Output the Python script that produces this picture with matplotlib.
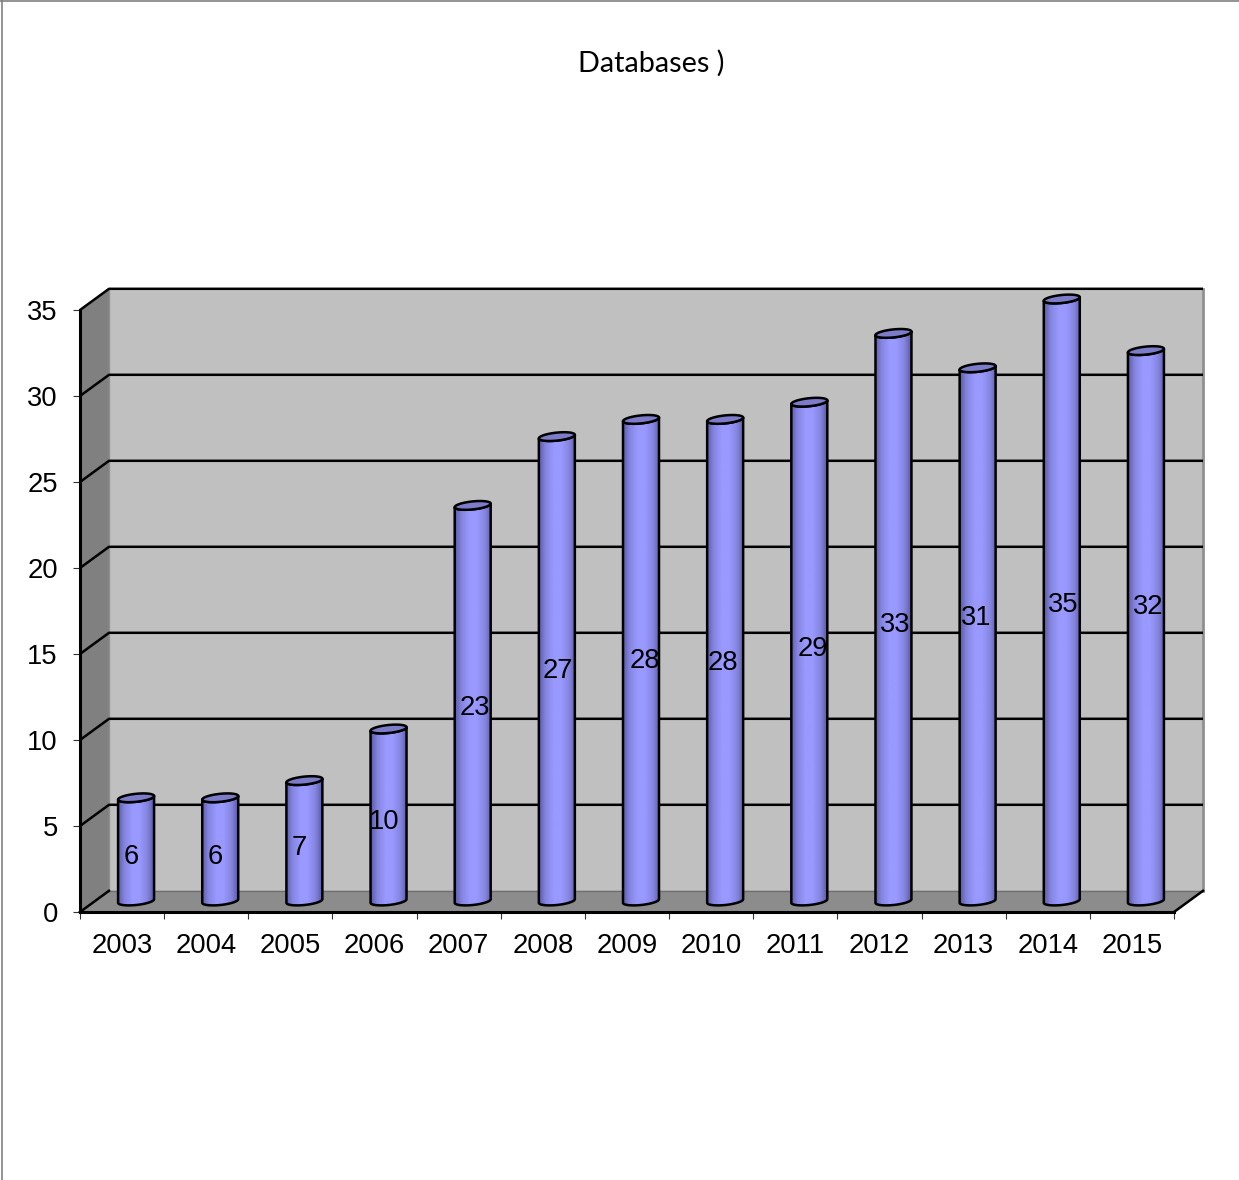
import numpy as np
import matplotlib
matplotlib.use("Agg")
import matplotlib.pyplot as plt
from matplotlib.colors import LinearSegmentedColormap
from matplotlib.lines import Line2D
from matplotlib.patches import Polygon

years = ["2003", "2004", "2005", "2006", "2007", "2008", "2009",
         "2010", "2011", "2012", "2013", "2014", "2015"]
databases = [6, 6, 7, 10, 23, 27, 28, 28, 29, 33, 31, 35, 32]
y_ticks = [0, 5, 10, 15, 20, 25, 30, 35]

# where the value labels sit relative to the middle of their bar, in points
label_dx = [-3.6, -3.6, -3.6, -3.2, 1.7, 1.0, 2.9, -1.4, 2.2, 1.4, -0.9, 1.0, 1.7]
label_dy = [-5.4, -5.4, -5, -5, -3.6, -1.4, -0.7, -2.1, 1.9, -5.7, 11.6, -3.6, 13.6]

W, H = 1239, 1180
plt.rcParams["font.family"] = ["Liberation Sans", "DejaVu Sans"]

fig = plt.figure(figsize=(W / 100, H / 100), dpi=100)
ax = fig.add_axes([80 / W, (H - 912) / H, 1094 / W, 602 / H])
ax.patch.set_alpha(0)

# pixels to data units
ux = 13 / 1094
uy = 35 / 602
dx = 29 * ux   # depth of the box
dy = 21.2 * uy
lw = 1.8


def wall(pts, color, z=1):
    ax.add_patch(Polygon(pts, closed=True, facecolor=color, edgecolor="none",
                         clip_on=False, zorder=z))


wall([(dx, dy), (13 + dx, dy), (13 + dx, 35 + dy), (dx, 35 + dy)], "#c0c0c0")
wall([(0, 0), (dx, dy), (dx, 35 + dy), (0, 35)], "#808080")
wall([(0, 0), (13, 0), (13 + dx, dy), (dx, dy)], "#8c8c8c")
ax.plot([dx, dx], [dy, 35 + dy], color="#909090", lw=1, clip_on=False, zorder=1.5)
ax.plot([dx, 13 + dx], [dy, dy], color="#707070", lw=1, clip_on=False, zorder=1.5)
ax.plot([13 + dx, 13 + dx], [dy, 35 + dy], color="#909090", lw=2, clip_on=False, zorder=1.5)

for v in y_ticks[1:]:
    ax.plot([0, dx, 13 + dx], [v, v + dy, v + dy], color="black", lw=lw,
            clip_on=False, zorder=2, solid_joinstyle="round", solid_capstyle="butt")
ax.plot([0, dx], [0, dy], color="black", lw=lw, clip_on=False, zorder=2)
ax.plot([13, 13 + dx], [0, dy], color="black", lw=lw, clip_on=False, zorder=2)

shade = LinearSegmentedColormap.from_list(
    "cyl", [(0, "#5c5ca8"), (0.18, "#8585e0"), (0.4, "#9999ff"),
            (0.6, "#9999ff"), (0.82, "#8585e0"), (1, "#5c5ca8")])
grad = np.linspace(0, 1, 128).reshape(1, -1)

off_x = 14 * ux
off_y = 11 * uy
a = 18 * ux
b = 4 * uy
tilt = 1.8 * uy
t = np.linspace(0, 2 * np.pi, 90)

for i, v in enumerate(databases):
    cx = i + 0.5 + off_x
    top = v + off_y
    base = off_y
    ex = cx + a * np.cos(t)
    ey = b * np.sin(t) + tilt * np.cos(t)

    # body: lower half of the base ellipse, then lower half of the top one
    low = (t >= np.pi) & (t <= 2 * np.pi)
    body_x = np.r_[ex[low], ex[low][::-1]]
    body_y = np.r_[base + ey[low], top + ey[low][::-1]]
    body = Polygon(np.c_[body_x, body_y], closed=True, facecolor="none",
                   edgecolor="black", lw=lw, clip_on=False, zorder=4,
                   joinstyle="round")
    ax.add_patch(body)
    im = ax.imshow(grad, cmap=shade, aspect="auto", zorder=3,
                   extent=[cx - a, cx + a, base - 1, top + 1])
    im.set_clip_path(body)
    im.set_clip_box(fig.bbox)

    ax.add_patch(Polygon(np.c_[ex, top + ey], closed=True, facecolor="#7c7cc8",
                         edgecolor="black", lw=lw, clip_on=False, zorder=5))

    ax.annotate(str(v), (cx, top - v / 2), xytext=(label_dx[i], label_dy[i]),
                textcoords="offset points", ha="center", va="center",
                fontsize=19.7, color="black", zorder=6)

ax.set_xlim(0, 13)
ax.set_ylim(0, 35)

ax.set_xticks(range(14))
ax.set_xticklabels([])
ax.set_xticks(np.arange(13) + 0.5, labels=years, minor=True)
ax.tick_params(axis="x", which="major", length=5, width=0.8, color="#333333")
ax.tick_params(axis="x", which="minor", length=0, labelsize=19.7, pad=15)
ax.set_yticks(y_ticks)
ax.tick_params(axis="y", length=5, width=0.8, color="#333333", labelsize=19.7, pad=11)

for side in ["top", "right"]:
    ax.spines[side].set_visible(False)
for side in ["left", "bottom"]:
    ax.spines[side].set_linewidth(2.2)
    ax.spines[side].set_zorder(2.5)

fig.text(651 / W, 1 - 63 / H, "Databases )", ha="center", va="center",
         fontsize=20.8, family="Lato", color="black")

# page edge left in the screenshot
fig.add_artist(Line2D([2.5 / W, 2.5 / W], [0, 1], color="#808080", lw=1.2))
fig.add_artist(Line2D([0, 1], [1 - 0.5 / H, 1 - 0.5 / H], color="#808080", lw=1.2))

fig.savefig("out.png", dpi=100)
